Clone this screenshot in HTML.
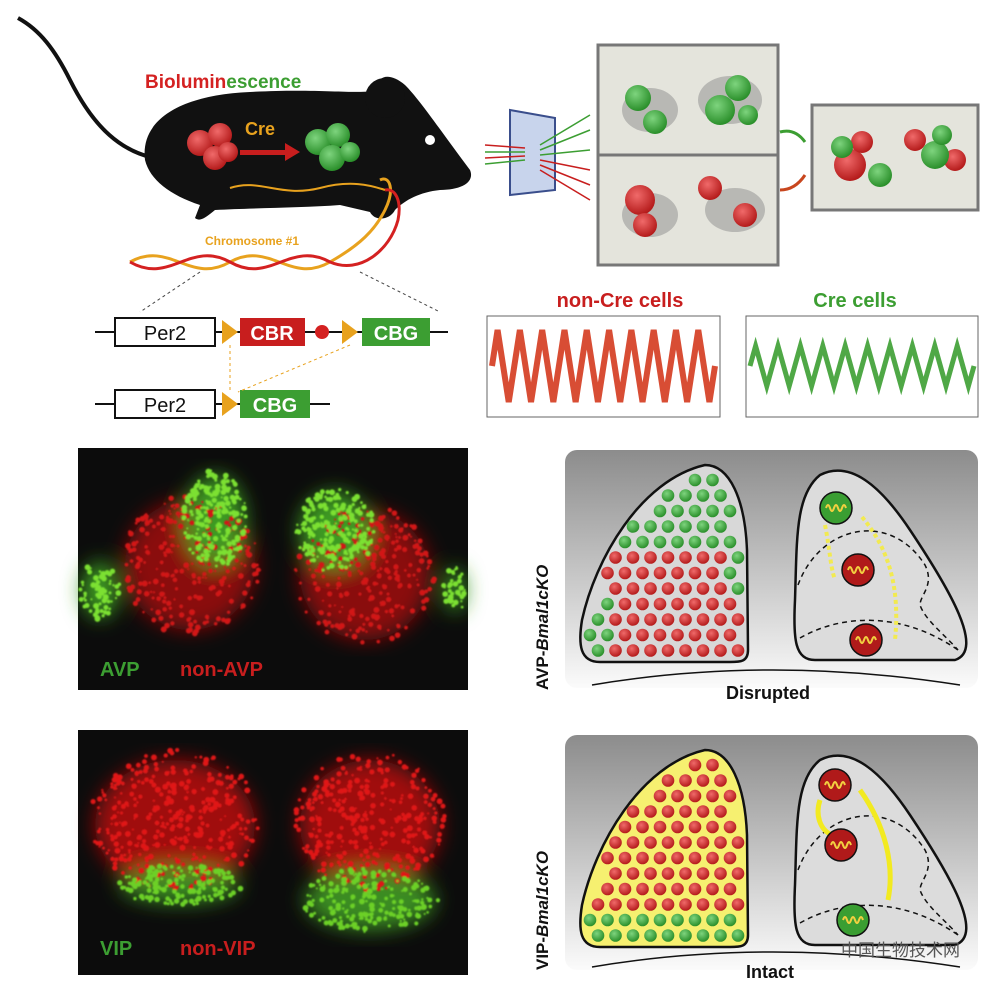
<!DOCTYPE html>
<html><head><meta charset="utf-8"><style>
html,body{margin:0;padding:0;background:#fff;}
svg{display:block;font-family:"Liberation Sans","Noto Sans CJK SC",sans-serif;}
</style></head><body>
<svg id="s" width="996" height="996" viewBox="0 0 996 996" xmlns="http://www.w3.org/2000/svg">
<defs>
<linearGradient id="gp" x1="0" y1="0" x2="0" y2="1"><stop offset="0" stop-color="#8c8c8c"/><stop offset="1" stop-color="#fbfbfb"/></linearGradient>
<radialGradient id="rc" cx="0.4" cy="0.35" r="0.7"><stop offset="0" stop-color="#f06a6a"/><stop offset="1" stop-color="#b01515"/></radialGradient>
<radialGradient id="gc" cx="0.4" cy="0.35" r="0.7"><stop offset="0" stop-color="#7ed47e"/><stop offset="1" stop-color="#248a24"/></radialGradient>
<filter id="b6"><feGaussianBlur stdDeviation="10"/></filter>
<filter id="b1"><feGaussianBlur stdDeviation="0.8"/></filter>
</defs>
<path d="M175,160 C120,160 90,120 70,80 C55,50 40,30 18,18" fill="none" stroke="#111" stroke-width="4"/>
<path d="M145,160 C140,120 180,95 250,92 C320,88 360,95 380,90 C375,75 390,72 405,85 C420,100 440,130 470,170 C475,182 462,190 440,190 C420,192 405,200 395,210 C390,220 375,222 370,212 L340,205 C300,208 250,208 215,210 C205,218 200,222 195,218 L200,205 C170,195 150,180 145,160Z" fill="#111"/>
<circle cx="385" cy="98" r="20" fill="#111"/>
<circle cx="430" cy="140" r="5" fill="#fff"/>
<text x="145" y="88" font-size="19" font-weight="bold" fill="#d42121">Biolumin<tspan fill="#3c9e32">escence</tspan></text>
<text x="245" y="135" font-size="18" font-weight="bold" fill="#e8a21e">Cre</text>
<path d="M240,150 L285,150 L285,143 L300,152 L285,161 L285,155 L240,155Z" fill="#c81e1e"/>
<g fill="url(#rc)"><circle cx="200" cy="143" r="13"/><circle cx="220" cy="135" r="12"/><circle cx="215" cy="158" r="12"/><circle cx="228" cy="152" r="10"/></g>
<g fill="url(#gc)"><circle cx="318" cy="142" r="13"/><circle cx="338" cy="135" r="12"/><circle cx="332" cy="158" r="13"/><circle cx="350" cy="152" r="10"/></g>
<path d="M130,262 C170,240 190,285 230,262 C270,240 290,285 330,262 C360,245 375,230 385,210 C395,190 390,175 380,180" fill="none" stroke="#e8a21e" stroke-width="3"/>
<path d="M130,262 C170,285 190,240 230,262 C270,285 290,240 330,262 C360,275 390,250 398,220 C402,200 395,188 385,190" fill="none" stroke="#d42121" stroke-width="3"/>
<path d="M230,188 C260,178 280,198 320,188 C350,180 370,185 385,190" fill="none" stroke="#e8a21e" stroke-width="2"/>
<text x="205" y="245" font-size="12" font-weight="bold" fill="#e8a21e">Chromosome #1</text>
<line x1="200" y1="272" x2="140" y2="312" stroke="#444" stroke-dasharray="3,3"/>
<line x1="360" y1="272" x2="440" y2="312" stroke="#444" stroke-dasharray="3,3"/>
<line x1="95" y1="332" x2="448" y2="332" stroke="#111" stroke-width="2"/>
<rect x="115" y="318" width="100" height="28" fill="#fff" stroke="#111" stroke-width="2"/>
<text x="165" y="340" font-size="20" text-anchor="middle" fill="#111">Per2</text>
<path d="M222,320 L238,332 L222,344Z" fill="#e8a21e"/>
<rect x="240" y="318" width="65" height="28" fill="#c81e1e"/>
<text x="272" y="340" font-size="20" font-weight="bold" text-anchor="middle" fill="#fff">CBR</text>
<circle cx="322" cy="332" r="7" fill="#d42121"/>
<path d="M342,320 L358,332 L342,344Z" fill="#e8a21e"/>
<rect x="362" y="318" width="68" height="28" fill="#3c9e32"/>
<text x="396" y="340" font-size="20" font-weight="bold" text-anchor="middle" fill="#fff">CBG</text>
<line x1="95" y1="404" x2="330" y2="404" stroke="#111" stroke-width="2"/>
<rect x="115" y="390" width="100" height="28" fill="#fff" stroke="#111" stroke-width="2"/>
<text x="165" y="412" font-size="20" text-anchor="middle" fill="#111">Per2</text>
<path d="M222,392 L238,404 L222,416Z" fill="#e8a21e"/>
<rect x="240" y="390" width="70" height="28" fill="#3c9e32"/>
<text x="275" y="412" font-size="20" font-weight="bold" text-anchor="middle" fill="#fff">CBG</text>
<line x1="230" y1="345" x2="230" y2="392" stroke="#e8a21e" stroke-dasharray="3,3"/>
<line x1="350" y1="345" x2="238" y2="392" stroke="#e8a21e" stroke-dasharray="3,3"/>
<path d="M510,110 L555,118 L555,190 L510,195Z" fill="#c8d4ec" stroke="#3a4e8c" stroke-width="2"/>
<g stroke-width="1.5">
<line x1="485" y1="145" x2="525" y2="148" stroke="#c81e1e"/><line x1="485" y1="152" x2="525" y2="152" stroke="#3c9e32"/><line x1="485" y1="158" x2="525" y2="156" stroke="#c81e1e"/><line x1="485" y1="164" x2="525" y2="160" stroke="#3c9e32"/>
<line x1="540" y1="145" x2="590" y2="115" stroke="#3c9e32"/><line x1="540" y1="150" x2="590" y2="130" stroke="#3c9e32"/><line x1="540" y1="155" x2="590" y2="150" stroke="#3c9e32"/>
<line x1="540" y1="160" x2="590" y2="170" stroke="#c81e1e"/><line x1="540" y1="165" x2="590" y2="185" stroke="#c81e1e"/><line x1="540" y1="170" x2="590" y2="200" stroke="#c81e1e"/>
</g>
<rect x="598" y="45" width="180" height="220" fill="#e4e4dc" stroke="#777" stroke-width="3"/>
<line x1="598" y1="155" x2="778" y2="155" stroke="#777" stroke-width="3"/>
<g fill="#b8b8b4"><ellipse cx="650" cy="110" rx="28" ry="22"/><ellipse cx="730" cy="100" rx="32" ry="24"/><ellipse cx="650" cy="215" rx="28" ry="22"/><ellipse cx="735" cy="210" rx="30" ry="22"/></g>
<g fill="url(#gc)"><circle cx="638" cy="98" r="13"/><circle cx="655" cy="122" r="12"/><circle cx="720" cy="110" r="15"/><circle cx="738" cy="88" r="13"/><circle cx="748" cy="115" r="10"/></g>
<g fill="url(#rc)"><circle cx="640" cy="200" r="15"/><circle cx="645" cy="225" r="12"/><circle cx="710" cy="188" r="12"/><circle cx="745" cy="215" r="12"/></g>
<rect x="812" y="105" width="166" height="105" fill="#e4e4dc" stroke="#777" stroke-width="3"/>
<g fill="url(#rc)"><circle cx="850" cy="165" r="16"/><circle cx="862" cy="142" r="11"/><circle cx="915" cy="140" r="11"/><circle cx="955" cy="160" r="11"/></g>
<g fill="url(#gc)"><circle cx="842" cy="147" r="11"/><circle cx="880" cy="175" r="12"/><circle cx="935" cy="155" r="14"/><circle cx="942" cy="135" r="10"/></g>
<path d="M780,132 Q795,128 805,142" fill="none" stroke="#3c9e32" stroke-width="3"/>
<path d="M780,190 Q795,190 805,175" fill="none" stroke="#c8461e" stroke-width="3"/>
<text x="620" y="307" font-size="20" font-weight="bold" text-anchor="middle" fill="#c81e1e">non-Cre cells</text>
<text x="855" y="307" font-size="20" font-weight="bold" text-anchor="middle" fill="#3c9e32">Cre cells</text>
<rect x="487" y="316" width="233" height="101" fill="#fff" stroke="#666"/>
<rect x="746" y="316" width="232" height="101" fill="#fff" stroke="#666"/>
<path id="zr" d="" fill="none" stroke="#d43a1e" stroke-width="6" opacity="0.9"/>
<path id="zg" d="" fill="none" stroke="#3c9e32" stroke-width="5" opacity="0.9"/>
<rect x="78" y="448" width="390" height="242" fill="#0c0c0c"/>
<g filter="url(#b6)">
<ellipse cx="190" cy="565" rx="65" ry="65" fill="#8a0c0c"/>
<ellipse cx="365" cy="575" rx="65" ry="65" fill="#8a0c0c"/>
<ellipse cx="215" cy="520" rx="30" ry="45" fill="#3c9a22"/>
<ellipse cx="335" cy="530" rx="35" ry="38" fill="#3c9a22"/>
<ellipse cx="100" cy="590" rx="18" ry="28" fill="#3c9a22"/>
<ellipse cx="455" cy="590" rx="10" ry="22" fill="#3c9a22"/>
</g>
<g id="sp1" filter="url(#b1)"></g>
<text x="100" y="676" font-size="20" font-weight="bold" fill="#3c9e32">AVP</text>
<text x="180" y="676" font-size="20" font-weight="bold" fill="#c81e1e">non-AVP</text>
<rect x="78" y="730" width="390" height="245" fill="#0c0c0c"/>
<g filter="url(#b6)">
<ellipse cx="175" cy="825" rx="80" ry="65" fill="#a00c0c"/>
<ellipse cx="370" cy="825" rx="70" ry="65" fill="#a00c0c"/>
<ellipse cx="180" cy="885" rx="60" ry="18" fill="#3a8c20"/>
<ellipse cx="370" cy="900" rx="65" ry="30" fill="#3a8c20"/>
</g>
<g id="sp2" filter="url(#b1)"></g>
<text x="100" y="955" font-size="20" font-weight="bold" fill="#3c9e32">VIP</text>
<text x="180" y="955" font-size="20" font-weight="bold" fill="#c81e1e">non-VIP</text>
<rect x="565" y="450" width="413" height="238" rx="12" fill="url(#gp)"/>
<rect x="565" y="735" width="413" height="235" rx="12" fill="url(#gp)"/>
<text transform="translate(548,690) rotate(-90)" font-size="17" font-weight="bold" fill="#111">AVP-<tspan font-style="italic">Bmal1cKO</tspan></text>
<text transform="translate(548,970) rotate(-90)" font-size="17" font-weight="bold" fill="#111">VIP-<tspan font-style="italic">Bmal1cKO</tspan></text>
<g id="lobes"></g>
<text x="768" y="699" font-size="18" font-weight="bold" text-anchor="middle" fill="#111">Disrupted</text>
<text x="770" y="978" font-size="18" font-weight="bold" text-anchor="middle" fill="#111">Intact</text>
<text x="960" y="956" font-size="17" text-anchor="end" fill="#555">中国生物技术网</text>
</svg>
<script>
var NS="http://www.w3.org/2000/svg";
function el(t,a,p){var e=document.createElementNS(NS,t);for(var k in a)e.setAttribute(k,a[k]);(p||document.getElementById('s')).appendChild(e);return e;}
function zig(x0,x1,yc,amp,n){var d="M"+x0+","+yc;var w=(x1-x0)/n;for(var i=0;i<n;i++){d+=" L"+(x0+w*(i+0.5))+","+(yc+(i%2?amp:-amp));}d+=" L"+x1+","+yc;return d;}
document.getElementById('zr').setAttribute('d',zig(492,715,366,36,20));
document.getElementById('zg').setAttribute('d',zig(750,974,366,20,20));
// speckles
var seed=7;function rnd(){seed=(seed*16807)%2147483647;return seed/2147483647;}
function speck(gid,cx,cy,rx,ry,col,n){var g=document.getElementById(gid);for(var i=0;i<n;i++){var a=rnd()*6.283,r=Math.sqrt(rnd());el('circle',{cx:cx+Math.cos(a)*r*rx,cy:cy+Math.sin(a)*r*ry,r:1+rnd()*2,fill:col},g);}}
speck('sp1',190,565,70,70,'#d21818',260);speck('sp1',365,575,70,70,'#d21818',260);
speck('sp1',215,520,32,50,'#7ce030',200);speck('sp1',335,530,40,42,'#7ce030',200);
speck('sp1',100,590,20,30,'#7ce030',70);speck('sp1',455,590,12,24,'#7ce030',40);
speck('sp2',175,820,85,70,'#e01818',350);speck('sp2',370,820,75,70,'#e01818',320);
speck('sp2',180,885,62,20,'#6cd028',150);speck('sp2',370,900,68,32,'#6cd028',200);
var g=document.getElementById('lobes');
function lobes(oy,vip){
 var L="M705,"+(oy+15)+" C730,"+(oy+15)+" 745,"+(oy+50)+" 747,"+(oy+100)+" L748,"+(oy+200)+" C748,"+(oy+212)+" 740,"+(oy+212)+" 730,"+(oy+212)+" L600,"+(oy+212)+" C580,"+(oy+212)+" 578,"+(oy+195)+" 582,"+(oy+170)+" C595,"+(oy+110)+" 640,"+(oy+30)+" 705,"+(oy+15)+"Z";
 var lp=el('path',{d:L,fill:vip?"#f6f070":"#d8d8d8","stroke":"#111","stroke-width":2.5},g);
 var R="M820,"+(oy+25)+" C850,"+(oy+10)+" 880,"+(oy+35)+" 910,"+(oy+80)+" C950,"+(oy+140)+" 985,"+(oy+200)+" 955,"+(oy+210)+" L815,"+(oy+210)+" C795,"+(oy+210)+" 793,"+(oy+190)+" 795,"+(oy+150)+" C797,"+(oy+90)+" 795,"+(oy+45)+" 820,"+(oy+25)+"Z";
 el('path',{d:R,fill:"#dcdcdc","stroke":"#111","stroke-width":2.5},g);
 el('path',{d:"M798,"+(oy+135)+" C820,"+(oy+75)+" 890,"+(oy+60)+" 925,"+(oy+115)+" C935,"+(oy+135)+" 920,"+(oy+145)+" 920,"+(oy+155)+" C925,"+(oy+170)+" 945,"+(oy+185)+" 958,"+(oy+200),fill:"none",stroke:"#111","stroke-dasharray":"5,4","stroke-width":1.5},g);
 el('path',{d:"M800,"+(oy+188)+" C840,"+(oy+165)+" 900,"+(oy+160)+" 958,"+(oy+200),fill:"none",stroke:"#111","stroke-dasharray":"5,4","stroke-width":1.5},g);
 for(var r=0;r<12;r++){var y=oy+30+r*15.5;
  for(var c=0;c<10;c++){var x=590+c*17.5+(r%2?8:0);
   var ok=true;
   try{ok=lp.isPointInFill(new DOMPoint(x-8,y))&&lp.isPointInFill(new DOMPoint(x+8,y))&&lp.isPointInFill(new DOMPoint(x,y-8))&&lp.isPointInFill(new DOMPoint(x,y+8));}catch(e){}
   if(!ok)continue;
   var d=y-oy,green;
   if(vip) green=(d>180);
   else green=(d<95)||(x>728&&d<150)||(x<600+ (d-150)*0.0 && d>150)||(x<612&&d>150);
   el('circle',{cx:x,cy:y,r:6.3,fill:green?"url(#gc)":"url(#rc)"},g);
  }}
 if(!vip){
  el('path',{d:"M825,"+(oy+75)+" C830,"+(oy+100)+" 830,"+(oy+115)+" 835,"+(oy+130),fill:"none",stroke:"#f2ea50","stroke-width":4,"stroke-dasharray":"4,3"},g);
  el('path',{d:"M862,"+(oy+67)+" C890,"+(oy+100)+" 900,"+(oy+140)+" 895,"+(oy+190),fill:"none",stroke:"#f2ea50","stroke-width":4,"stroke-dasharray":"4,3"},g);
 }else{
  el('path',{d:"M820,"+(oy+65)+" C815,"+(oy+80)+" 820,"+(oy+95)+" 832,"+(oy+100),fill:"none",stroke:"#f2ea20","stroke-width":5},g);
  el('path',{d:"M860,"+(oy+55)+" C885,"+(oy+90)+" 895,"+(oy+130)+" 888,"+(oy+165),fill:"none",stroke:"#f2ea20","stroke-width":5},g);
 }
 var big=vip?[[835,oy+50,1],[841,oy+110,1],[853,oy+185,0]]:[[836,oy+58,0],[858,oy+120,1],[866,oy+190,1]];
 big.forEach(function(b){el('circle',{cx:b[0],cy:b[1],r:16,fill:b[2]?"#b01a1a":"#3a9e32",stroke:"#111","stroke-width":1.5},g);
  el('path',{d:"M"+(b[0]-10)+","+b[1]+" q2,-6 4,0 t4,0 t4,0 t4,0 t4,0",fill:"none",stroke:"#f2d040","stroke-width":2},g);});
 var by=oy+(vip?232:235);
 el('path',{d:"M592,"+by+" Q770,"+(by-30)+" 960,"+by,fill:"none",stroke:"#111","stroke-width":1.5},g);
}
lobes(450,false);lobes(735,true);
</script>
</body></html>
